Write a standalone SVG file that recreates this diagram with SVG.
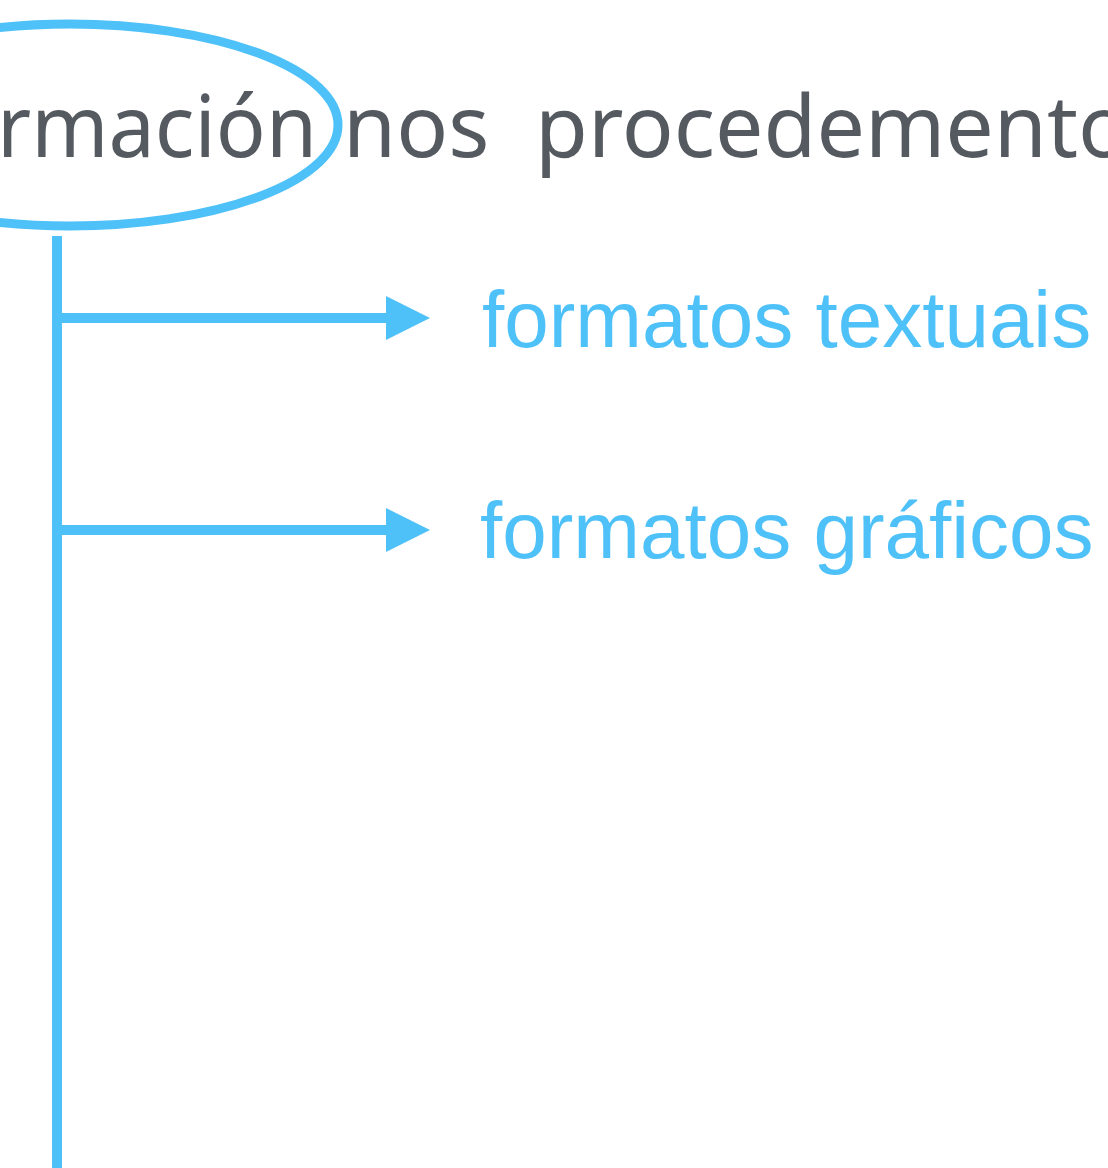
<svg xmlns="http://www.w3.org/2000/svg" width="1108" height="1168" viewBox="0 0 1108 1168">
<style>
.title{font-family:"Noto Sans","Open Sans",sans-serif;font-size:86px;fill:#555a61}
.label{font-family:"Liberation Sans",Arial,sans-serif;font-size:80px;fill:#4fc1f9}
.conn{stroke:#4fc1f9;stroke-width:10;fill:none}
</style>
<defs>
<marker id="ah" markerUnits="userSpaceOnUse" markerWidth="44" markerHeight="44" refX="0" refY="22" orient="auto">
<path d="M0,0 L44,22 L0,44 Z" fill="#4fc1f9"/>
</marker>
</defs>
<rect width="1108" height="1168" fill="#ffffff"/>
<g id="title">
<text class="title" x="-3" y="157" textLength="320" lengthAdjust="spacingAndGlyphs">rmación</text>
<text class="title" x="343" y="157">nos</text>
<text class="title" x="535" y="157">procedementos</text>
<ellipse cx="70" cy="125" rx="268" ry="101" fill="none" stroke="#4fc1f9" stroke-width="9"/>
</g>
<g id="connectors">
<line class="conn" x1="57" y1="236" x2="57" y2="1168"/>
<line class="conn" x1="57" y1="318" x2="386" y2="318" marker-end="url(#ah)"/>
<line class="conn" x1="57" y1="530" x2="386" y2="530" marker-end="url(#ah)"/>
</g>
<g id="node-textuais">
<text class="label" x="482" y="347">formatos textuais</text>
</g>
<g id="node-graficos">
<text class="label" x="480" y="558">formatos gráficos</text>
</g>
</svg>
